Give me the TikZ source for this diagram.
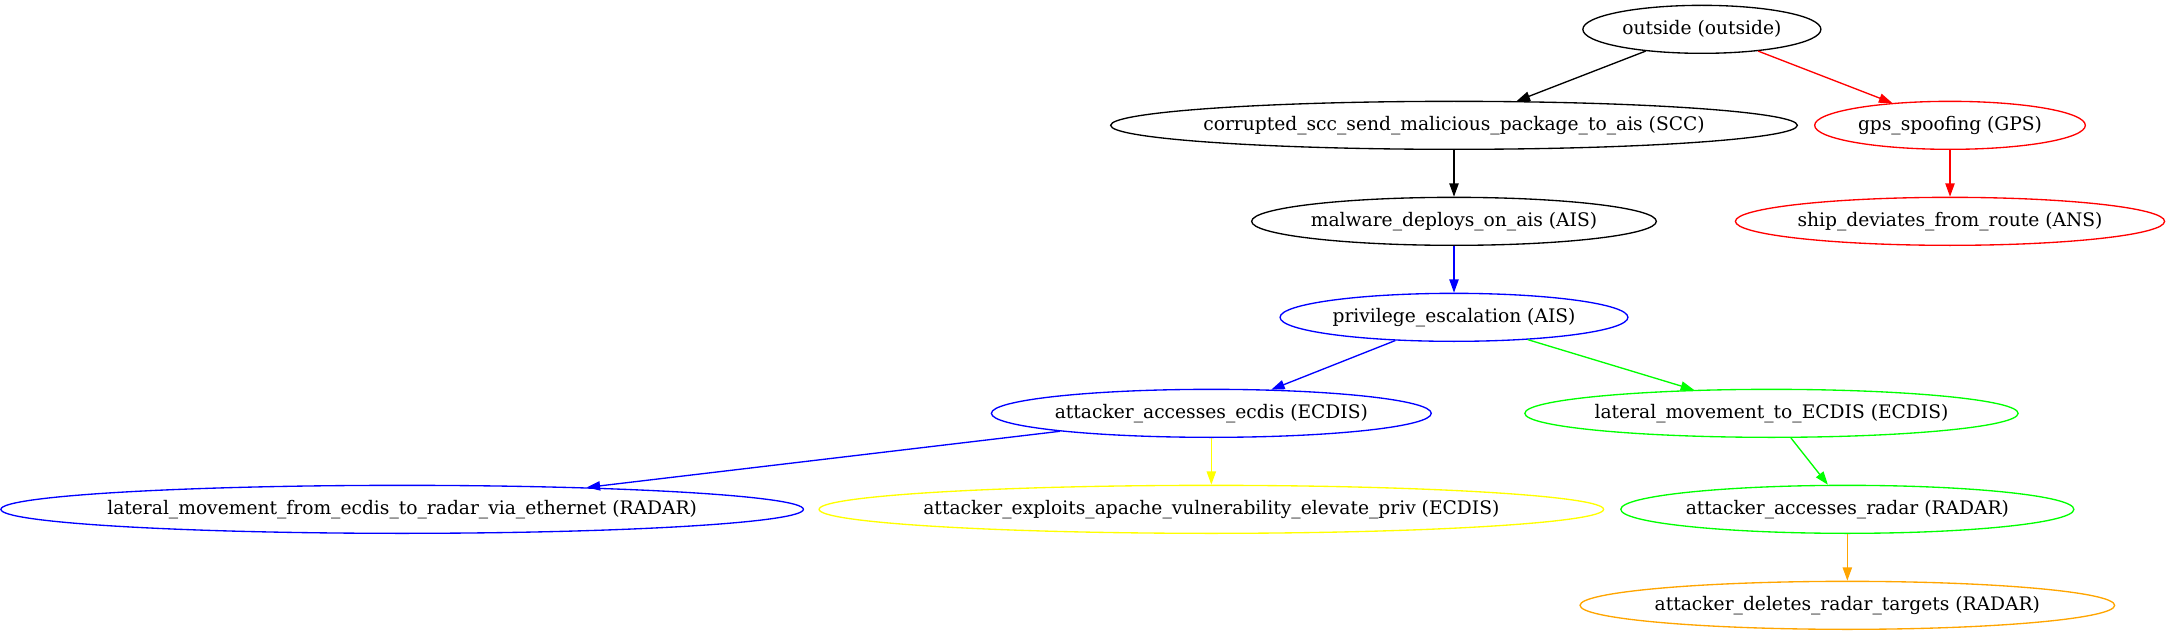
\documentclass[tikz,border=0pt]{standalone}
\usepackage{fontspec}
\setmainfont{DejaVu Serif}
\usetikzlibrary{shapes.geometric,arrows.meta}
\definecolor{gvblack}{RGB}{0,0,0}
\definecolor{gvred}{RGB}{255,0,0}
\definecolor{gvblue}{RGB}{0,0,255}
\definecolor{gvgreen}{RGB}{0,255,0}
\definecolor{gvyellow}{RGB}{255,255,0}
\definecolor{gvorange}{RGB}{255,165,0}
\newcommand\gvfont{\fontsize{14pt}{16.8pt}\selectfont}
\newlength\gvw
\tikzset{
  gvshape/.style={ellipse, line width=1pt, inner sep=0pt, minimum height=36pt, font=\gvfont, text=black},
  gvedge/.style={line width=1pt, -{Triangle[length=10pt,width=7pt]}},
}
% measure label widths outside the picture (TikZ uses \nullfont inside)
\newcommand\gvlabel[2]{%
  \expandafter\gdef\csname gvT#1\endcsname{#2}%
  \settowidth{\gvw}{\gvfont #2}%
  \pgfmathsetlengthmacro\gvtmp{1.38*(0.95*\gvw+16pt)}%
  \expandafter\xdef\csname gvW#1\endcsname{\gvtmp}%
}
\newcommand\gvnode[4]{%
  \node[gvshape, draw=#4, minimum width=\csname gvW#1\endcsname] (#1) at (#2pt,-#3pt) {\makebox[0pt]{\csname gvT#1\endcsname}};%
}
\begin{document}
\gvlabel{out}{outside (outside)}%
\gvlabel{scc}{corrupted\_scc\_send\_malicious\_package\_to\_ais (SCC)}%
\gvlabel{gps}{gps\_spoofing (GPS)}%
\gvlabel{mal}{malware\_deploys\_on\_ais (AIS)}%
\gvlabel{ship}{ship\_deviates\_from\_route (ANS)}%
\gvlabel{priv}{privilege\_escalation (AIS)}%
\gvlabel{ecdis}{attacker\_accesses\_ecdis (ECDIS)}%
\gvlabel{latto}{lateral\_movement\_to\_ECDIS (ECDIS)}%
\gvlabel{latfrom}{lateral\_movement\_from\_ecdis\_to\_radar\_via\_ethernet (RADAR)}%
\gvlabel{apache}{attacker\_exploits\_apache\_vulnerability\_elevate\_priv (ECDIS)}%
\gvlabel{radar}{attacker\_accesses\_radar (RADAR)}%
\gvlabel{del}{attacker\_deletes\_radar\_targets (RADAR)}%
\begin{tikzpicture}
\useasboundingbox (0,0) rectangle (1626pt,-476.25pt);
\gvnode{out}{1276.4}{22}{gvblack}
\gvnode{scc}{1090.5}{94}{gvblack}
\gvnode{gps}{1462.5}{94}{gvred}
\gvnode{mal}{1090.5}{166}{gvblack}
\gvnode{ship}{1462.5}{166}{gvred}
\gvnode{priv}{1090.5}{238}{gvblue}
\gvnode{ecdis}{908.5}{310}{gvblue}
\gvnode{latto}{1328.6}{310}{gvgreen}
\gvnode{latfrom}{301.6}{382}{gvblue}
\gvnode{apache}{908.5}{382}{gvyellow}
\gvnode{radar}{1385.5}{382}{gvgreen}
\gvnode{del}{1385.5}{454}{gvorange}
\draw[gvedge, gvblack] (out) -- (scc);
\draw[gvedge, gvred] (out) -- (gps);
\draw[gvedge, gvblack] (scc) -- (mal);
\draw[gvedge, gvred] (gps) -- (ship);
\draw[gvedge, gvblue] (mal) -- (priv);
\draw[gvedge, gvblue] (priv) -- (ecdis);
\draw[gvedge, gvgreen] (priv) -- (latto);
\draw[gvedge, gvblue] (ecdis) -- (latfrom);
\draw[gvedge, gvyellow] (ecdis) -- (apache);
\draw[gvedge, gvgreen] (latto) -- (radar);
\draw[gvedge, gvorange] (radar) -- (del);
\end{tikzpicture}
\end{document}
